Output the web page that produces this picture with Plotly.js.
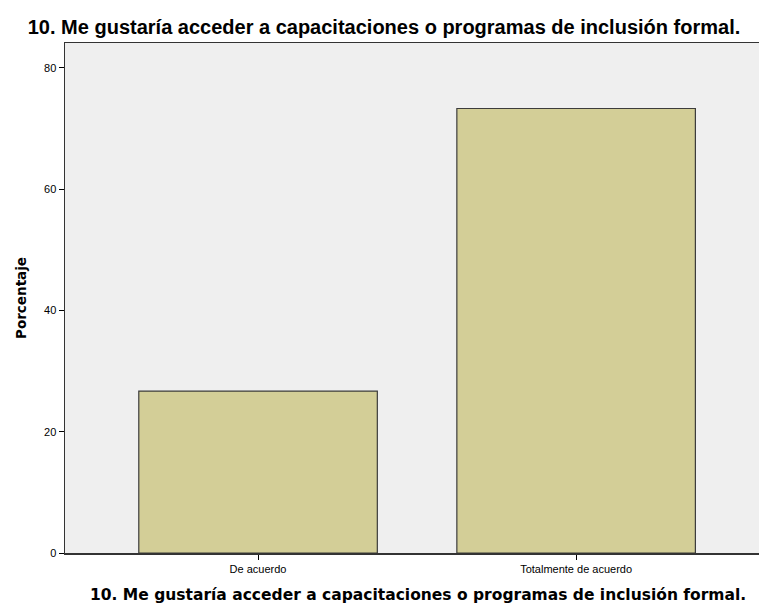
<!DOCTYPE html>
<html>
<head>
<meta charset="utf-8">
<script src="https://cdn.plot.ly/plotly-3.0.1.min.js"></script>
<style>html,body{margin:0;padding:0;background:#fff;}#chart{width:759px;height:609px;}</style>
</head>
<body>
<div id="chart"></div>
<script>
const categories = ["De acuerdo", "Totalmente de acuerdo"];
const percentages = [26.7, 73.3];
const yTickValues = [0, 20, 40, 60, 80];
const chartTitle = "10. Me gustaría acceder a capacitaciones o programas de inclusión formal.";
const yTitle = "Porcentaje";

const trace = {
  type: "bar",
  x: [0, 1],
  y: percentages,
  width: 0.75,
  marker: {color: "#d3ce97", line: {color: "#3c3c3c", width: 1.2}},
  hoverinfo: "skip"
};

const layout = {
  width: 759, height: 609,
  margin: {l: 65, r: 0, t: 43, b: 56},
  paper_bgcolor: "#ffffff",
  plot_bgcolor: "#efefef",
  showlegend: false,
  title: {
    text: "<b>" + chartTitle + "</b>",
    font: {family: "Liberation Sans, Arial, sans-serif", size: 20, color: "#000"},
    x: 384/759, xanchor: "center", xref: "container",
    y: 1 - 27/609, yanchor: "middle", yref: "container"
  },
  xaxis: {
    range: [-0.607, 1.575],
    tickmode: "array", tickvals: [0, 1], ticktext: categories,
    ticks: "outside", ticklen: 5, tickcolor: "#000", tickwidth: 1,
    tickfont: {family: "Liberation Sans, Arial, sans-serif", size: 11, color: "#000"},
    showline: true, linecolor: "#333", linewidth: 1.5, mirror: true,
    showgrid: false, zeroline: false, fixedrange: true
  },
  yaxis: {
    range: [0, 84.1],
    tickmode: "array", tickvals: yTickValues,
    ticks: "outside", ticklen: 5, tickcolor: "#000", tickwidth: 1,
    tickfont: {family: "Liberation Sans, Arial, sans-serif", size: 11, color: "#000"},
    showline: true, linecolor: "#333", linewidth: 1.5, mirror: true,
    showgrid: false, zeroline: false, fixedrange: true,
    title: {
      text: "<b>" + yTitle + "</b>",
      font: {family: "DejaVu Sans, sans-serif", size: 13.5, color: "#000"},
      standoff: 14
    }
  },
  annotations: [{
    text: "<b>" + chartTitle + "</b>",
    font: {family: "DejaVu Sans, sans-serif", size: 15.5, color: "#000"},
    xref: "paper", yref: "paper",
    x: (418 - 65) / 694, xanchor: "center",
    y: -(595 - 553) / 510, yanchor: "middle",
    showarrow: false
  }]
};

Plotly.newPlot("chart", [trace], layout, {displayModeBar: false, staticPlot: true});
</script>
</body>
</html>
